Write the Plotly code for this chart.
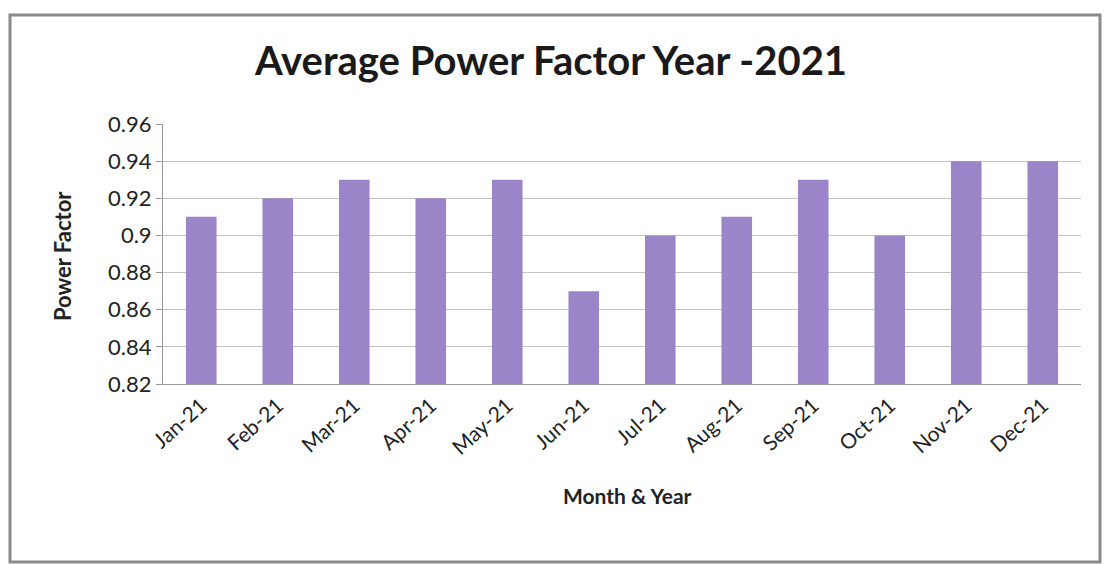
import plotly.graph_objects as go

months = ["Jan-21", "Feb-21", "Mar-21", "Apr-21", "May-21", "Jun-21",
          "Jul-21", "Aug-21", "Sep-21", "Oct-21", "Nov-21", "Dec-21"]
power_factor = [0.91, 0.92, 0.93, 0.92, 0.93, 0.87, 0.90, 0.91, 0.93, 0.90, 0.94, 0.94]
y_ticks = [0.82, 0.84, 0.86, 0.88, 0.90, 0.92, 0.94, 0.96]
y_tick_text = ["0.82", "0.84", "0.86", "0.88", "0.9", "0.92", "0.94", "0.96"]

W, H = 1109, 564
L, R, T, B = 163, 28, 124, 180
pw, ph = W - L - R, H - T - B

def px2x(p):
    return (p - L) / pw

def px2y(p):
    return (H - B - p) / ph

fig = go.Figure(go.Bar(
    x=months, y=power_factor,
    marker=dict(color="#9A85C8", line=dict(width=0)),
    width=0.4,
))

fig.update_layout(
    width=W, height=H,
    margin=dict(l=L, r=R, t=T, b=B, autoexpand=False),
    paper_bgcolor="white", plot_bgcolor="white",
    showlegend=False,
    font=dict(family="Lato, Open Sans, sans-serif", color="#222222"),
    title=dict(text="<b>Average Power Factor Year -2021</b>", x=551 / W, xanchor="center",
               y=1 - 61 / H, yanchor="middle",
               font=dict(size=40, family="Lato, sans-serif", color="#1a1a1a")),
    shapes=[dict(type="rect", xref="paper", yref="paper",
                 x0=px2x(10), x1=px2x(1100), y0=px2y(562), y1=px2y(15),
                 line=dict(color="#8a8a8a", width=3), fillcolor="rgba(0,0,0,0)")],
    annotations=[
        dict(text="<b>Month & Year</b>", xref="paper", yref="paper",
             x=px2x(627), y=px2y(495), xanchor="center", yanchor="middle",
             showarrow=False, font=dict(size=21, color="#222222")),
        dict(text="<b>Power Factor</b>", xref="paper", yref="paper",
             x=px2x(62), y=px2y(256), xanchor="center", yanchor="middle",
             textangle=-90, showarrow=False, font=dict(size=22, color="#222222")),
    ],
)

fig.update_xaxes(
    tickangle=-42, tickfont=dict(size=21, color="#222222"),
    showline=True, linecolor="#999999", linewidth=1,
    showgrid=False,
)
fig.update_yaxes(
    range=[0.82, 0.96], tickvals=y_ticks, ticktext=y_tick_text,
    tickfont=dict(size=22, color="#222222"),
    showline=True, linecolor="#999999", linewidth=1,
    showgrid=True, gridcolor="#C4C4C4", gridwidth=1,
    ticks="outside", ticklen=6, tickcolor="#999999",
)

fig.write_html("out.html", config={"displayModeBar": False},
               post_script="document.body.style.margin='0';")
